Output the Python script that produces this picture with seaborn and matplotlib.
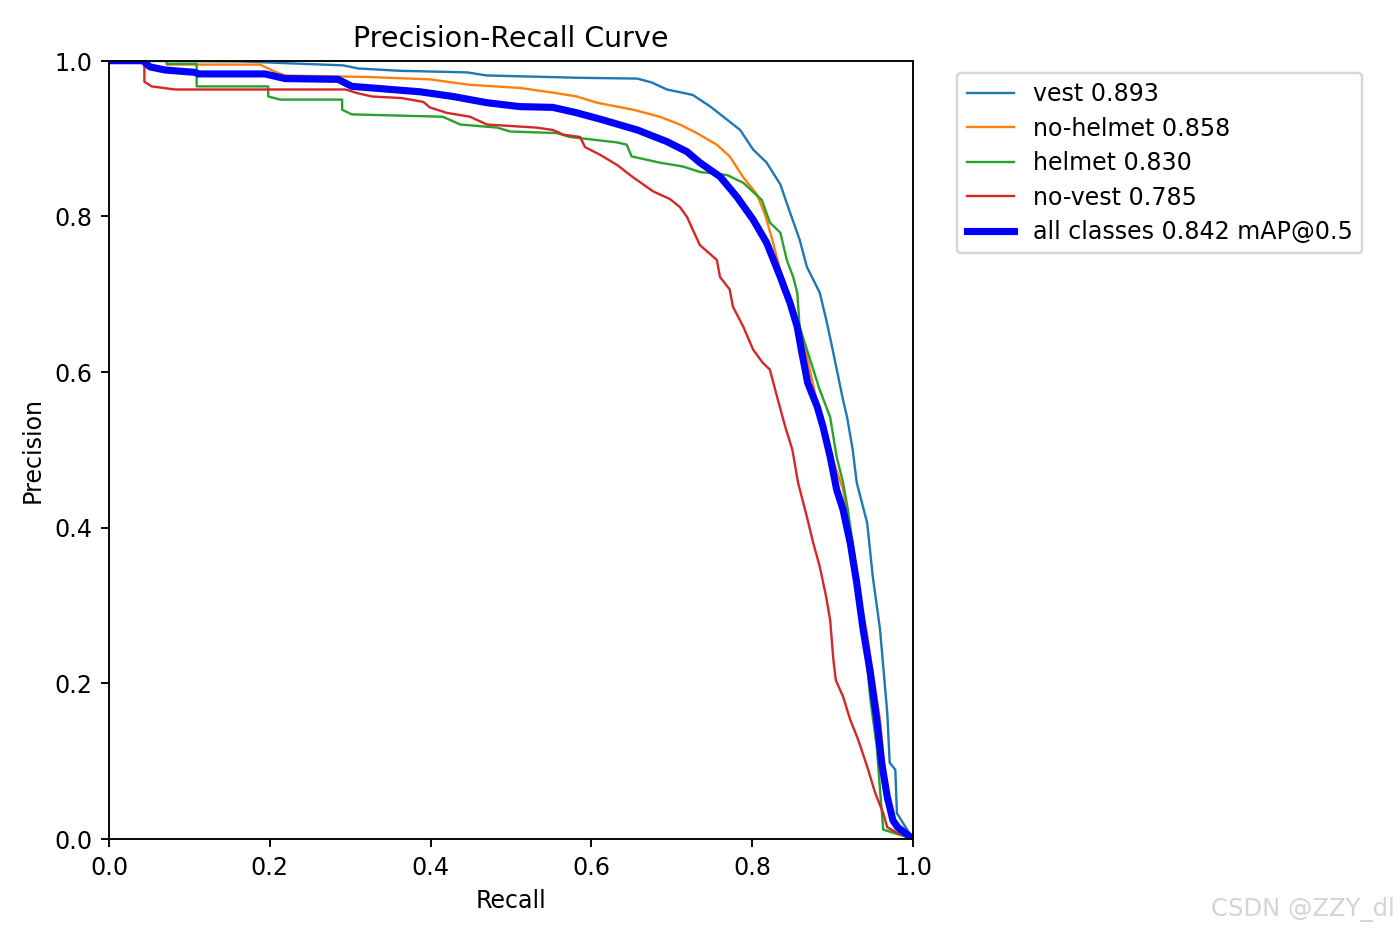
import matplotlib
matplotlib.use("Agg")
import matplotlib.pyplot as plt
import seaborn as sns

# curvas PR (recall, precision)
vest_r = [0.0, 0.165, 0.291, 0.310, 0.362, 0.445, 0.470, 0.586, 0.657, 0.675, 0.694, 0.726,
          0.748, 0.769, 0.785, 0.801, 0.818, 0.835, 0.847, 0.859, 0.868, 0.884, 0.893,
          0.900, 0.913, 0.918, 0.925, 0.930, 0.943, 0.950, 0.959, 0.968, 0.971, 0.978,
          0.980, 1.0]
vest_p = [1.0, 0.999, 0.994, 0.990, 0.987, 0.985, 0.981, 0.978, 0.977, 0.972, 0.963, 0.956,
          0.941, 0.924, 0.911, 0.886, 0.869, 0.841, 0.805, 0.770, 0.735, 0.702, 0.663,
          0.629, 0.564, 0.542, 0.500, 0.458, 0.406, 0.337, 0.269, 0.162, 0.098, 0.089,
          0.033, 0.0]

nohelmet_r = [0.0, 0.072, 0.072, 0.188, 0.206, 0.219, 0.325, 0.399, 0.449, 0.511, 0.552,
              0.582, 0.607, 0.652, 0.685, 0.710, 0.731, 0.756, 0.772, 0.789, 0.806, 0.816,
              0.825, 0.832, 0.845, 0.866, 0.882, 0.899, 0.913, 0.919, 0.929, 0.942, 0.950,
              0.959, 0.964, 0.966, 0.978, 1.0]
nohelmet_p = [1.0, 1.0, 0.995, 0.995, 0.986, 0.981, 0.979, 0.976, 0.969, 0.965, 0.959,
              0.954, 0.946, 0.937, 0.928, 0.918, 0.907, 0.892, 0.877, 0.850, 0.828, 0.802,
              0.770, 0.742, 0.693, 0.629, 0.555, 0.491, 0.449, 0.410, 0.329, 0.269, 0.213,
              0.153, 0.098, 0.050, 0.014, 0.0]

helmet_r = [0.0, 0.072, 0.072, 0.109, 0.109, 0.198, 0.198, 0.213, 0.290, 0.290, 0.302,
            0.415, 0.437, 0.483, 0.499, 0.557, 0.573, 0.632, 0.644, 0.650, 0.685, 0.714,
            0.735, 0.769, 0.789, 0.812, 0.822, 0.835, 0.843, 0.851, 0.856, 0.859, 0.868,
            0.876, 0.884, 0.897, 0.905, 0.913, 0.919, 0.925, 0.932, 0.940, 0.947, 0.955,
            0.959, 0.963, 1.0]
helmet_p = [1.0, 1.0, 0.996, 0.996, 0.967, 0.967, 0.954, 0.950, 0.950, 0.937, 0.931,
            0.928, 0.918, 0.914, 0.909, 0.907, 0.902, 0.895, 0.892, 0.877, 0.869, 0.864,
            0.857, 0.853, 0.843, 0.821, 0.792, 0.779, 0.744, 0.722, 0.702, 0.658, 0.629,
            0.603, 0.577, 0.542, 0.491, 0.458, 0.423, 0.380, 0.329, 0.256, 0.179, 0.118,
            0.063, 0.012, 0.0]

novest_r = [0.0, 0.044, 0.044, 0.053, 0.082, 0.294, 0.310, 0.327, 0.364, 0.391, 0.399,
            0.420, 0.449, 0.470, 0.532, 0.552, 0.565, 0.586, 0.592, 0.611, 0.632, 0.652,
            0.677, 0.698, 0.710, 0.719, 0.726, 0.735, 0.756, 0.760, 0.772, 0.776, 0.789,
            0.801, 0.813, 0.822, 0.832, 0.841, 0.850, 0.857, 0.868, 0.876, 0.884, 0.892,
            0.897, 0.901, 0.904, 0.913, 0.922, 0.932, 0.943, 0.953, 0.963, 0.968, 0.980,
            1.0]
novest_p = [1.0, 1.0, 0.973, 0.967, 0.963, 0.963, 0.958, 0.954, 0.952, 0.947, 0.940,
            0.933, 0.928, 0.918, 0.914, 0.911, 0.905, 0.902, 0.889, 0.879, 0.866, 0.850,
            0.832, 0.822, 0.812, 0.799, 0.783, 0.763, 0.744, 0.722, 0.706, 0.684, 0.658,
            0.629, 0.612, 0.603, 0.564, 0.530, 0.500, 0.458, 0.414, 0.380, 0.350, 0.311,
            0.281, 0.230, 0.204, 0.183, 0.153, 0.127, 0.093, 0.059, 0.033, 0.015, 0.008,
            0.0]

all_r = [0.0, 0.042, 0.051, 0.070, 0.107, 0.111, 0.194, 0.219, 0.285, 0.302, 0.327,
         0.387, 0.428, 0.470, 0.511, 0.552, 0.582, 0.614, 0.657, 0.694, 0.719, 0.735,
         0.760, 0.781, 0.801, 0.818, 0.835, 0.847, 0.856, 0.861, 0.869, 0.881, 0.888,
         0.897, 0.905, 0.913, 0.922, 0.930, 0.938, 0.947, 0.955, 0.961, 0.968, 0.975,
         0.981, 1.0]
all_p = [1.0, 1.0, 0.992, 0.988, 0.985, 0.983, 0.983, 0.977, 0.976, 0.967, 0.965,
         0.960, 0.954, 0.946, 0.941, 0.940, 0.933, 0.924, 0.911, 0.896, 0.883, 0.869,
         0.851, 0.825, 0.796, 0.766, 0.722, 0.689, 0.658, 0.629, 0.586, 0.555, 0.530,
         0.491, 0.449, 0.423, 0.380, 0.329, 0.269, 0.213, 0.153, 0.098, 0.054, 0.024,
         0.015, 0.0]

clases = ["vest", "no-helmet", "helmet", "no-vest"]
ap = [0.893, 0.858, 0.830, 0.785]
map50 = 0.842
colores = ["tab:blue", "tab:orange", "tab:green", "tab:red"]

# figura algo mas pequeña en pulgadas para que texto y lineas salgan como en la original
escala = 1.1
ancho, alto = 9 / escala, 6 / escala
fig = plt.figure(figsize=(ancho, alto), dpi=1400 / ancho)
ax = fig.add_axes([109 / 1400, 94 / 933, 804 / 1400, 778 / 933])

curvas = [(vest_r, vest_p), (nohelmet_r, nohelmet_p), (helmet_r, helmet_p), (novest_r, novest_p)]
for (r, p), nombre, a, c in zip(curvas, clases, ap, colores):
    sns.lineplot(x=r, y=p, ax=ax, sort=False, estimator=None, color=c, linewidth=1,
                 label=f"{nombre} {a:.3f}")

sns.lineplot(x=all_r, y=all_p, ax=ax, sort=False, estimator=None, color="blue", linewidth=3,
             label=f"all classes {map50:.3f} mAP@0.5")

ax.set_xlim(0, 1)
ax.set_ylim(0, 1)
ax.set_xlabel("Recall")
ax.set_ylabel("Precision")
ax.set_title("Precision-Recall Curve")
ax.legend(bbox_to_anchor=(1.04, 1), loc="upper left", labelspacing=0.44)

# marca de agua
fig.text(0.996, 0.025, "CSDN @ZZY_dl", ha="right", va="center", fontsize=10.2, color="#d4d4d4")

fig.savefig("out.png", dpi=1400 / ancho)
